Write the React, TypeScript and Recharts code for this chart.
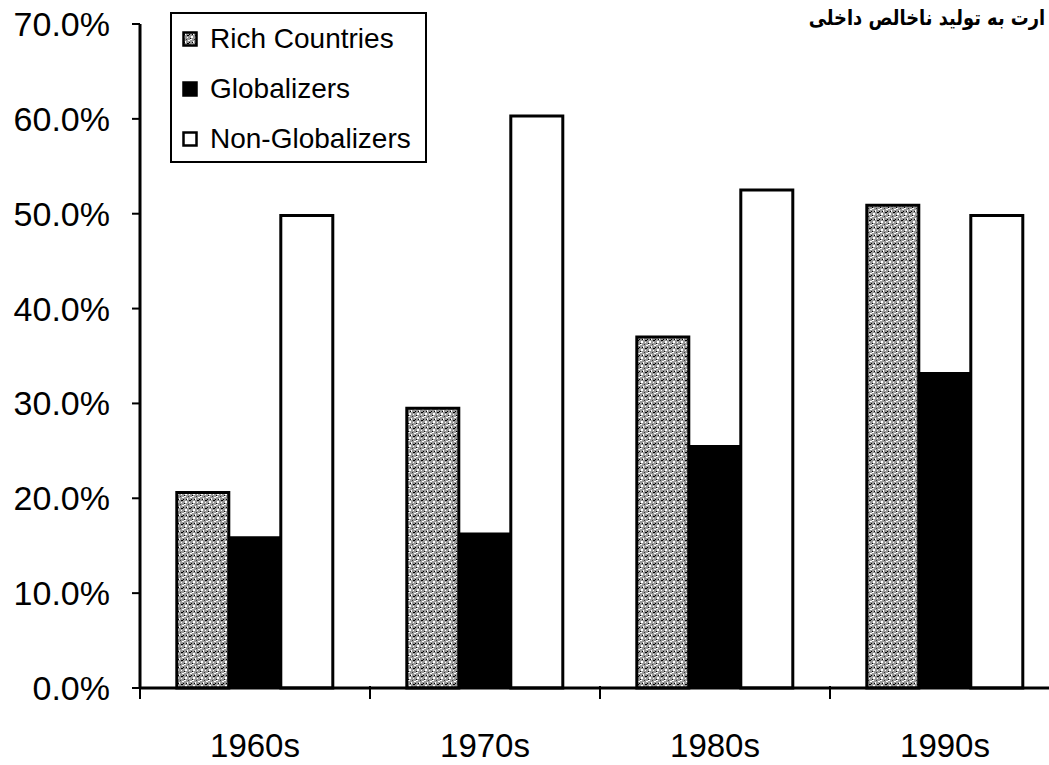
import React from 'react';
import { BarChart, Bar, XAxis, YAxis } from 'recharts';

const categories = ['1960s', '1970s', '1980s', '1990s'];
const richCountries = [20.6, 29.5, 37.0, 50.9];
const globalizers = [15.9, 16.3, 25.5, 33.2];
const nonGlobalizers = [49.8, 60.3, 52.5, 49.8];
const yTicks = [0, 10, 20, 30, 40, 50, 60, 70];
const seriesNames = ['Rich Countries', 'Globalizers', 'Non-Globalizers'];
const titleText = 'ارت به تولید ناخالص داخلی';

const data = categories.map((decade, i) => ({
  decade,
  rich: richCountries[i],
  glob: globalizers[i],
  non: nonGlobalizers[i],
}));

const FONT = '"Liberation Sans", Arial, sans-serif';
const CHART_W = 1075;
const CHART_H = 765;
const MARGIN = { top: 24, right: 15, bottom: 0, left: 0 };
const Y_AXIS_W = 140;
const BAND = (CHART_W - MARGIN.left - MARGIN.right - Y_AXIS_W) / categories.length;

function SpecklePattern({ id }: { id: string }) {
  return (
    <pattern id={id} width="8" height="8" patternUnits="userSpaceOnUse">
      <rect width="8" height="8" fill="#9a9a9a" />
      <rect x="0" y="0" width="2" height="1" fill="#fff" />
      <rect x="3" y="2" width="1" height="2" fill="#fff" />
      <rect x="6" y="1" width="2" height="1" fill="#fff" />
      <rect x="1" y="5" width="2" height="2" fill="#fff" />
      <rect x="5" y="6" width="1" height="1" fill="#fff" />
      <rect x="2" y="3" width="1" height="1" fill="#000" />
      <rect x="5" y="4" width="2" height="1" fill="#000" />
      <rect x="0" y="7" width="1" height="1" fill="#000" />
      <rect x="7" y="3" width="1" height="1" fill="#000" />
      <rect x="4" y="0" width="1" height="1" fill="#333" />
    </pattern>
  );
}

function LegendIcon({ kind }: { kind: number }) {
  const fill = kind === 0 ? 'url(#legendSpeckle)' : kind === 1 ? '#000' : '#fff';
  return (
    <svg width={16} height={16} style={{ display: 'block' }}>
      <defs>
        <SpecklePattern id="legendSpeckle" />
      </defs>
      <rect x={1.5} y={1.5} width={13} height={13} fill={fill} stroke="#000" strokeWidth={2.5} />
    </svg>
  );
}

function DecadeTick(props: any) {
  const { x, y, payload } = props;
  const left = x - BAND / 2;
  return (
    <g>
      <line x1={left} y1={y - 2} x2={left} y2={y + 11} stroke="#000" strokeWidth={2} />
      <text
        x={x}
        y={y + 46}
        textAnchor="middle"
        fill="#000"
        fontSize={33}
        fontFamily={FONT}
        dy="0.71em"
      >
        {payload.value}
      </text>
    </g>
  );
}

export default function App() {
  return (
    <div
      style={{
        position: 'fixed',
        left: 0,
        top: 0,
        width: 1049,
        height: 765,
        overflow: 'hidden',
        background: '#fff',
        fontFamily: FONT,
      }}
    >
      <BarChart
        width={CHART_W}
        height={CHART_H}
        data={data}
        margin={MARGIN}
        barGap={0}
        barCategoryGap="16%"
      >
        <defs>
          <SpecklePattern id="barSpeckle" />
        </defs>
        <XAxis
          dataKey="decade"
          height={77}
          tickLine={false}
          axisLine={{ stroke: '#000', strokeWidth: 3 }}
          tickSize={0}
          tickMargin={0}
          interval={0}
          tick={<DecadeTick />}
        />
        <YAxis
          width={Y_AXIS_W}
          domain={[0, 70]}
          ticks={yTicks}
          interval={0}
          tickFormatter={(v: number) => `${v.toFixed(1)}%`}
          axisLine={{ stroke: '#000', strokeWidth: 3 }}
          tickLine={{ stroke: '#000', strokeWidth: 2 }}
          tickSize={8}
          tickMargin={22}
          tick={{ fill: '#000', fontSize: 34, fontFamily: FONT }}
        />
        <Bar dataKey="rich" name={seriesNames[0]} fill="url(#barSpeckle)" stroke="#000" strokeWidth={3} isAnimationActive={false} />
        <Bar dataKey="glob" name={seriesNames[1]} fill="#000" stroke="#000" strokeWidth={2} isAnimationActive={false} />
        <Bar dataKey="non" name={seriesNames[2]} fill="#fff" stroke="#000" strokeWidth={3} isAnimationActive={false} />
      </BarChart>

      <div
        style={{
          position: 'absolute',
          left: 170,
          top: 12,
          width: 257,
          height: 151,
          boxSizing: 'border-box',
          border: '2px solid #000',
          background: '#fff',
        }}
      >
        {seriesNames.map((name, i) => (
          <div key={name} style={{ height: 50, display: 'flex', alignItems: 'center', paddingLeft: 10 }}>
            <LegendIcon kind={i} />
            <span style={{ marginLeft: 12, fontSize: 28, color: '#000', lineHeight: '28px' }}>{name}</span>
          </div>
        ))}
      </div>

      <div
        style={{
          position: 'absolute',
          right: 4,
          top: 6,
          direction: 'rtl',
          fontFamily: '"DejaVu Sans", sans-serif',
          fontWeight: 'bold',
          fontSize: 21,
          color: '#000',
          whiteSpace: 'nowrap',
          transform: 'scaleX(0.85)',
          transformOrigin: 'right center',
        }}
      >
        {titleText}
      </div>
    </div>
  );
}
